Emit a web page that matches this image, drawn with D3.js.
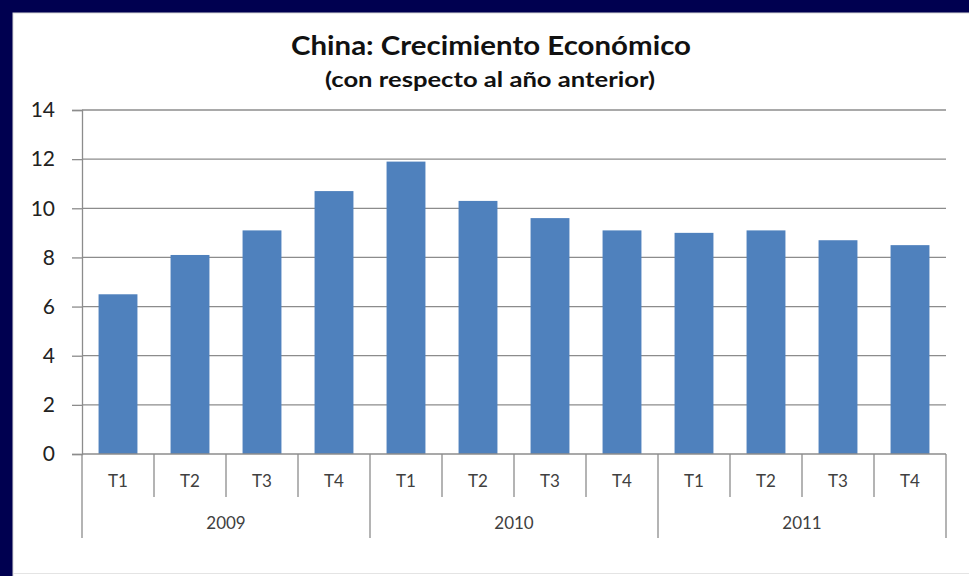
<!DOCTYPE html>
<html>
<head>
<meta charset="utf-8">
<script src="https://cdn.jsdelivr.net/npm/d3@7"></script>
<style>
  body { margin: 0; background: #000050; }
  svg { display: block; }
  text { font-family: Lato, "Open Sans", sans-serif; }
</style>
</head>
<body>
<div id="chart"></div>
<script>
// data
let years = ["2009", "2010", "2011"];
let quarters = ["T1", "T2", "T3", "T4"];
let growth = [6.5, 8.1, 9.1, 10.7, 11.9, 10.3, 9.6, 9.1, 9.0, 9.1, 8.7, 8.5];
let yTicks = [0, 2, 4, 6, 8, 10, 12, 14];

let svgWidth = 969;
let svgHeight = 576;

let margin = { top: 110, right: 23, bottom: 122, left: 82 };
let width = svgWidth - margin.left - margin.right;
let height = svgHeight - margin.top - margin.bottom;

let svg = d3.select("#chart")
    .append("svg")
    .attr("width", svgWidth)
    .attr("height", svgHeight);

// navy frame + white panel (panel runs off the right and bottom edges)
svg.append("rect")
    .attr("width", svgWidth).attr("height", svgHeight)
    .attr("fill", "#000050");
svg.append("rect")
    .attr("x", 13).attr("y", 13)
    .attr("width", svgWidth).attr("height", svgHeight)
    .attr("fill", "#ffffff")
    .attr("stroke", "#d8d8d8");
svg.append("line")
    .attr("x1", 13).attr("x2", svgWidth)
    .attr("y1", 573.5).attr("y2", 573.5)
    .attr("stroke", "#e4e4e4");

svg.append("text")
    .attr("x", 491).attr("y", 55)
    .attr("text-anchor", "middle")
    .attr("font-size", 26)
    .attr("font-weight", "bold")
    .attr("fill", "#111")
    .attr("textLength", 400)
    .attr("lengthAdjust", "spacingAndGlyphs")
    .text("China: Crecimiento Económico");

svg.append("text")
    .attr("x", 490).attr("y", 87)
    .attr("text-anchor", "middle")
    .attr("font-size", 21)
    .attr("font-weight", "bold")
    .attr("fill", "#111")
    .attr("textLength", 330)
    .attr("lengthAdjust", "spacingAndGlyphs")
    .text("(con respecto al año anterior)");

let chartGroup = svg.append("g")
    .attr("transform", `translate(${margin.left},${margin.top})`);

// one entry per quarter
let rows = growth.map((v, i) => ({
    key: years[Math.floor(i / 4)] + "-" + quarters[i % 4],
    year: years[Math.floor(i / 4)],
    q: quarters[i % 4],
    value: v
}));

let xBand = d3.scaleBand()
    .domain(rows.map(d => d.key))
    .range([0, width])
    .paddingInner(0.46)
    .paddingOuter(0.23);

let yLinearScale = d3.scaleLinear()
    .domain([0, 14])
    .range([height, 0]);

// gridlines
chartGroup.append("g")
    .selectAll("line")
    .data(yTicks.filter(t => t > 0))
    .enter()
    .append("line")
    .attr("x1", 0).attr("x2", width)
    .attr("y1", d => yLinearScale(d)).attr("y2", d => yLinearScale(d))
    .attr("stroke", "#8c8c8c")
    .attr("stroke-width", 1.3);

// y axis
let leftAxis = d3.axisLeft(yLinearScale)
    .tickValues(yTicks)
    .tickSize(10)
    .tickPadding(17);

let yAxis = chartGroup.append("g").call(leftAxis);
yAxis.select(".domain").attr("stroke", "#8c8c8c").attr("stroke-width", 1.3);
yAxis.selectAll(".tick line").attr("stroke", "#8c8c8c").attr("stroke-width", 1.3);
yAxis.selectAll(".tick text")
    .attr("font-size", 21)
    .attr("fill", "#222")
    .style("font-family", "Lato, sans-serif");

// bars
chartGroup.selectAll("rect.bar")
    .data(rows)
    .enter()
    .append("rect")
    .attr("class", "bar")
    .attr("x", d => xBand(d.key))
    .attr("y", d => yLinearScale(d.value))
    .attr("width", xBand.bandwidth())
    .attr("height", d => height - yLinearScale(d.value))
    .attr("fill", "#4f81bd");

// x axis baseline
let step = xBand.step();
chartGroup.append("line")
    .attr("x1", 0).attr("x2", width)
    .attr("y1", height).attr("y2", height)
    .attr("stroke", "#8c8c8c")
    .attr("stroke-width", 1.3);

// category separators: quarter ticks short, year ticks long
let sepGroup = chartGroup.append("g");
d3.range(rows.length + 1).forEach(i => {
    let isYear = i % 4 === 0;
    sepGroup.append("line")
        .attr("x1", i * step).attr("x2", i * step)
        .attr("y1", height).attr("y2", height + (isYear ? 84 : 43))
        .attr("stroke", "#8c8c8c")
        .attr("stroke-width", 1.3);
});

// quarter labels
chartGroup.append("g")
    .selectAll("text")
    .data(rows)
    .enter()
    .append("text")
    .attr("x", (d, i) => (i + 0.5) * step)
    .attr("y", height + 33)
    .attr("text-anchor", "middle")
    .attr("font-size", 17)
    .attr("fill", "#404040")
    .text(d => d.q);

// year labels
chartGroup.append("g")
    .selectAll("text")
    .data(years)
    .enter()
    .append("text")
    .attr("x", (d, i) => (i * 4 + 2) * step)
    .attr("y", height + 75)
    .attr("text-anchor", "middle")
    .attr("font-size", 17)
    .attr("fill", "#404040")
    .text(d => d);
</script>
</body>
</html>
